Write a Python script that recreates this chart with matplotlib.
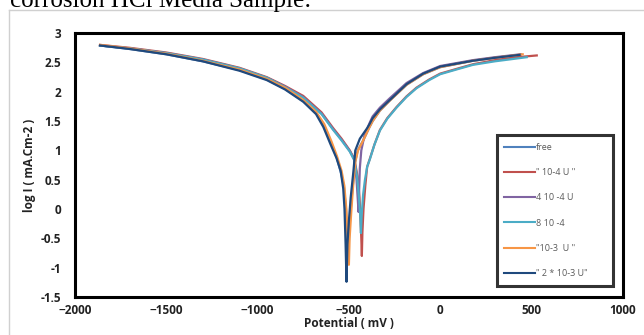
import matplotlib
matplotlib.use('Agg')
import matplotlib.pyplot as plt
from matplotlib.lines import Line2D

# potential (mV) and log I (mA.Cm-2), one pair of lists per sample
free_E = [-1863, -1700, -1500, -1300, -1100, -950, -850, -750, -680, -637, -597, -567, -542, -527, -516, -509, -503,
          -499, -491, -480, -466, -452, -420, -390, -370, -330, -276, -184, -93, 0, 180, 300, 440]
free_I = [2.79, 2.73, 2.64, 2.52, 2.37, 2.21, 2.05, 1.84, 1.64, 1.43, 1.12, 0.88, 0.6, 0.38, 0.0, -0.45, -0.88,
          -0.45, -0.05, 0.35, 0.8, 1.0, 1.18, 1.38, 1.5, 1.68, 1.85, 2.12, 2.3, 2.42, 2.53, 2.58, 2.63]

u1_E = [-1863, -1700, -1500, -1300, -1100, -950, -850, -750, -650, -586, -540, -495, -470, -452, -442, -436, -432, -429,
        -426, -420, -410, -400, -385, -360, -330, -290, -239, -185, -130, -60, 0, 100, 180, 300, 420, 529]
u1_I = [2.80, 2.75, 2.67, 2.56, 2.41, 2.25, 2.10, 1.93, 1.65, 1.38, 1.20, 1.0, 0.85, 0.55, 0.2, -0.2, -0.5, -0.8,
        -0.4, 0.0, 0.4, 0.72, 0.86, 1.1, 1.35, 1.55, 1.74, 1.92, 2.07, 2.21, 2.31, 2.40, 2.47, 2.54, 2.59, 2.62]

u4_E = [-1863, -1700, -1500, -1300, -1100, -950, -850, -750, -650, -586, -540, -495, -470, -458, -452, -447,
        -444, -440, -432, -415, -385, -370, -330, -276, -184, -93, 0, 180, 300, 440]
u4_I = [2.79, 2.74, 2.66, 2.55, 2.40, 2.24, 2.09, 1.91, 1.63, 1.36, 1.18, 0.99, 0.84, 0.5, 0.2, -0.05,
        0.3, 0.7, 1.0, 1.25, 1.48, 1.58, 1.73, 1.89, 2.15, 2.32, 2.44, 2.54, 2.59, 2.64]

u8_E = [-1863, -1700, -1500, -1300, -1100, -950, -850, -750, -650, -586, -540, -495, -470, -455, -445, -438, -434,
        -430, -422, -412, -400, -385, -360, -330, -290, -239, -185, -130, -60, 0, 100, 180, 300, 474]
u8_I = [2.79, 2.74, 2.66, 2.55, 2.40, 2.24, 2.08, 1.90, 1.62, 1.35, 1.17, 0.98, 0.83, 0.55, 0.2, -0.1, -0.41,
        -0.1, 0.25, 0.5, 0.72, 0.85, 1.1, 1.34, 1.54, 1.73, 1.91, 2.06, 2.20, 2.30, 2.39, 2.46, 2.52, 2.59]

m3_E = [-1863, -1700, -1500, -1300, -1100, -950, -850, -750, -680, -635, -595, -565, -540, -525, -514, -507, -500,
        -496, -488, -478, -465, -450, -420, -390, -370, -330, -276, -184, -93, 0, 180, 300, 452]
m3_I = [2.80, 2.74, 2.65, 2.53, 2.38, 2.22, 2.07, 1.86, 1.66, 1.45, 1.15, 0.9, 0.65, 0.4, 0.0, -0.5, -0.95,
        -0.5, -0.1, 0.35, 0.8, 1.0, 1.18, 1.38, 1.5, 1.68, 1.85, 2.12, 2.30, 2.42, 2.53, 2.58, 2.64]

m2_E = [-1863, -1700, -1500, -1300, -1100, -950, -850, -750, -680, -640, -600, -568, -545, -531, -524, -518, -513,
        -508, -500, -490, -475, -465, -440, -400, -385, -370, -330, -276, -184, -93, 0, 180, 300, 435]
m2_I = [2.79, 2.73, 2.64, 2.52, 2.36, 2.20, 2.04, 1.83, 1.62, 1.40, 1.10, 0.87, 0.65, 0.35, 0.0, -0.6, -1.24,
        -0.6, -0.2, 0.2, 0.65, 1.0, 1.2, 1.38, 1.46, 1.55, 1.70, 1.86, 2.13, 2.31, 2.43, 2.53, 2.58, 2.63]

labels = ['free', '" 10-4 U "', '4 10 -4 U', '8 10 -4', '"10-3  U "', '" 2 * 10-3 U"']
colors = ['#4F81BD', '#C0504D', '#8064A2', '#4BACC6', '#F79646', '#1F497D']
series = [(free_E, free_I), (u1_E, u1_I), (u4_E, u4_I), (u8_E, u8_I), (m3_E, m3_I), (m2_E, m2_I)]

fig = plt.figure(figsize=(6.44, 3.35), dpi=100)
ax = fig.add_axes([0.1165, 0.1134, 0.8505, 0.7876])

for (E, I), c, lab in zip(series, colors, labels):
    ax.plot(E, I, color=c, lw=1.6, label=lab, solid_joinstyle='round')

ax.set_xlim(-2000, 1000)
ax.set_ylim(-1.5, 3)
ax.set_xticks(range(-2000, 1001, 500))
ax.set_yticks([-1.5, -1, -0.5, 0, 0.5, 1, 1.5, 2, 2.5, 3])
ax.set_yticklabels(['-1.5', '-1', '-0.5', '0', '0.5', '1', '1.5', '2', '2.5', '3'])
ax.tick_params(length=0, labelsize=8.5, colors='#222222')
ax.tick_params(axis='y', pad=10)
ax.tick_params(axis='x', pad=5)
for t in ax.get_xticklabels() + ax.get_yticklabels():
    t.set_fontweight('bold')
    t.set_family('Open Sans')
for s in ax.spines.values():
    s.set_linewidth(2.2)
    s.set_color('black')

ax.set_xlabel('Potential ( mV )', fontsize=8.5, fontweight='bold', family='Open Sans', labelpad=0, color='#222222')
ax.set_ylabel('log I ( mA.Cm-2 )', fontsize=8.5, fontweight='bold', family='Open Sans', labelpad=3, color='#222222')

handles = [Line2D([0], [0], color=c, lw=1.5) for c in colors]
leg = ax.legend(handles, labels, loc='upper left', bbox_to_anchor=(0.770, 0.0265, 0.212, 0.587),
                mode='expand', labelspacing=1.8, handlelength=3.4, handletextpad=0.1,
                borderpad=0.85, borderaxespad=0, frameon=True, fancybox=False,
                prop={'family': 'Open Sans', 'size': 6.5})
leg.get_frame().set_edgecolor('black')
leg.get_frame().set_linewidth(2.2)
for t in leg.get_texts():
    t.set_color('#595959')

# outer chart border and the cut caption above it
fig.add_artist(Line2D([0.014, 1.0], [0.970, 0.970], color='#d0d0d0', lw=1, transform=fig.transFigure))
fig.add_artist(Line2D([0.014, 0.014], [0.0, 0.970], color='#d0d0d0', lw=1, transform=fig.transFigure))
fig.text(0.0155, 0.979, 'corrosion HCl Media Sample:', family='Liberation Serif', fontsize=18, va='baseline')

fig.savefig('out.png', dpi=100)
